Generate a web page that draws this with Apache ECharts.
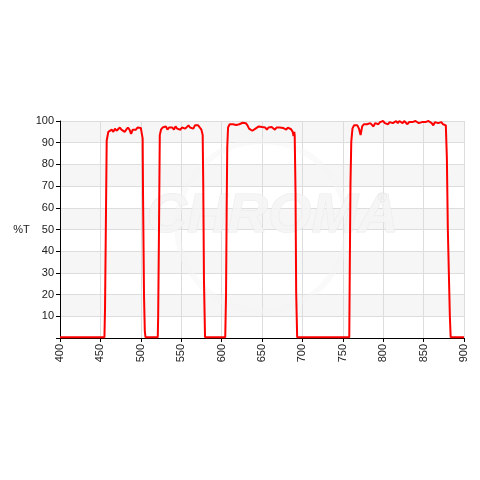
<!DOCTYPE html>
<html><head><meta charset="utf-8">
<script src="https://cdn.jsdelivr.net/npm/echarts@6/dist/echarts.min.js"></script>
<style>html,body{margin:0;padding:0;background:#fff}#c{width:480px;height:480px}</style>
</head><body><div id="c"></div>
<script>
// Transmission curve (%T vs wavelength nm), per passband
const wl1 = [400,455,455.7,456.9,457.8,459.8,
  462,464,466,468,470,472,474,476,478,480,
  482,484,486,488,490,492,494,496,498,500,
  501.5,502.3,502.8,504,505,505.8];
const t1 = [0.4,0.4,13,57,91,95,
  95.5,96,95,96.5,95.5,96,97,96,96.5,95,
  96,97,96,94,96,96.5,96,97,96.5,96.8,
  96,92,65,19,3,0.4];

const wl2 = [521,521.5,522.5,523.5,525,
  527,529,531,533,535,537,539,541,543,545,
  547,549,551,553,555,557,559,561,563,565,
  567,569,571,573,575,
  576.6,577.3,578.2,579.5];
const t2 = [0.4,10,49,93.5,96,
  97,96.5,97.5,96,97,96.5,97,96,97.5,96.5,
  97,96,97,97.5,96.5,97,98,97,97.5,96.5,
  98,97.5,98,97,96,
  93.5,70,26,0.4];

const wl3 = [604.5,605.5,606.3,607,608,
  610,612,614,616,618,620,622,624,626,628,
  630,632,634,636,638,640,642,644,646,648,
  650,652,654,656,658,660,662,664,666,668,
  670,672,674,676,678,680,682,684,686,
  687,688,689,690,690.5,691.5,692.3,693.5];
const t3 = [0.4,20,60,88,97,
  98.5,98.7,98.5,98.7,98.2,97.8,98.5,99,99.2,98.8,
  99,98,96.5,96.8,95.5,95,96.5,97,97.5,96.8,
  97.2,96.5,97,96,97,96.5,97.2,96.8,96,97,
  96.5,97,96.2,96.8,96.5,96,97,96.5,96.2,
  96.8,95,93,95,93,67,21,0.4];

const wl4 = [758,758.6,759.5,760.5,762,
  764,766,768,770,772,774,776,778,780,782,
  784,786,788,790,792,794,796,798,800,802,
  804,806,808,810,812,814,816,818,820,822,
  824,826,828,830,832,834,836,838,840,842,
  844,846,848,850,852,854,856,858,860,862,
  864,866,868,870,872,874,876,
  877.5,878.8,880,882.5,883.5,900];
const t4 = [0.4,30,71,90.5,96.6,
  98,97.5,98,96.5,93.5,97.5,98.5,99,98.5,98,
  99,98.5,97.5,99,99.5,98.5,99.5,99,100,99,
  99.5,98.5,99.5,100,99,99.5,100,99,100,99.5,
  99,100,99.5,98.5,99.5,100,99.5,99,100,99.5,
  99,98.5,99.5,100,99.5,99,100,99.5,99,98,
  99.5,100,99,98.5,99.5,98.5,98.5,
  98,83,50,10,0.4,0.4];

const xTicks = [400,450,500,550,600,650,700,750,800,850,900];
const yTicks = [10,20,30,40,50,60,70,80,90,100];

const wavelength = wl1.concat(wl2, wl3, wl4);
const transmission = t1.concat(t2, t3, t4);
const data = wavelength.map((w,i)=>[w, transmission[i]]);

const chart = echarts.init(document.getElementById('c'), null, {renderer:'canvas'});
const font = 'Liberation Sans, Arial, sans-serif';
chart.setOption({
  animation:false,
  backgroundColor:'#ffffff',
  grid:{left:60,right:16,top:121,bottom:142,containLabel:false},
  graphic:[
    {type:'ring',z:1,silent:true,shape:{cx:262,cy:226,r:88,r0:82},style:{fill:'#f3f3f3',opacity:0.45}},
    {type:'text',z:1,silent:true,left:146,top:188,style:{text:'CHROMA',font:'italic bold 56px '+font,fill:'#f5f5f5',stroke:'#e9e9e9',lineWidth:1,opacity:0.85}},
    {type:'text',z:1,silent:true,left:378,top:193,style:{text:'®',font:'12px '+font,fill:'#e6e6e6'}}
  ],
  xAxis:{type:'value',min:400,max:900,interval:50,
    axisLine:{show:true,lineStyle:{color:'#000',width:1}},
    axisTick:{show:true,length:4,lineStyle:{color:'#000'}},
    axisLabel:{rotate:90,color:'#222',fontFamily:font,fontSize:11,margin:6,
      formatter:v=>xTicks.includes(v)?String(v):''},
    splitLine:{show:true,lineStyle:{color:'#dddddd',width:1}}},
  yAxis:{type:'value',min:0,max:100,interval:10,
    name:'%T',nameLocation:'middle',nameRotate:0,nameGap:27,
    nameTextStyle:{color:'#222',fontFamily:font,fontSize:11,align:'right'},
    axisLine:{show:true,lineStyle:{color:'#000',width:1}},
    axisTick:{show:true,length:4,lineStyle:{color:'#000'}},
    axisLabel:{color:'#222',fontFamily:font,fontSize:11,margin:6,
      formatter:v=>yTicks.includes(v)?String(v):''},
    splitLine:{show:true,lineStyle:{color:'#dddddd',width:1}},
    splitArea:{show:true,areaStyle:{color:['#ffffff','#f6f6f6']}}},
  series:[{type:'line',data:data,showSymbol:false,z:3,
    lineStyle:{color:'#ff0000',width:2},itemStyle:{color:'#ff0000'}}]
});
</script></body></html>
